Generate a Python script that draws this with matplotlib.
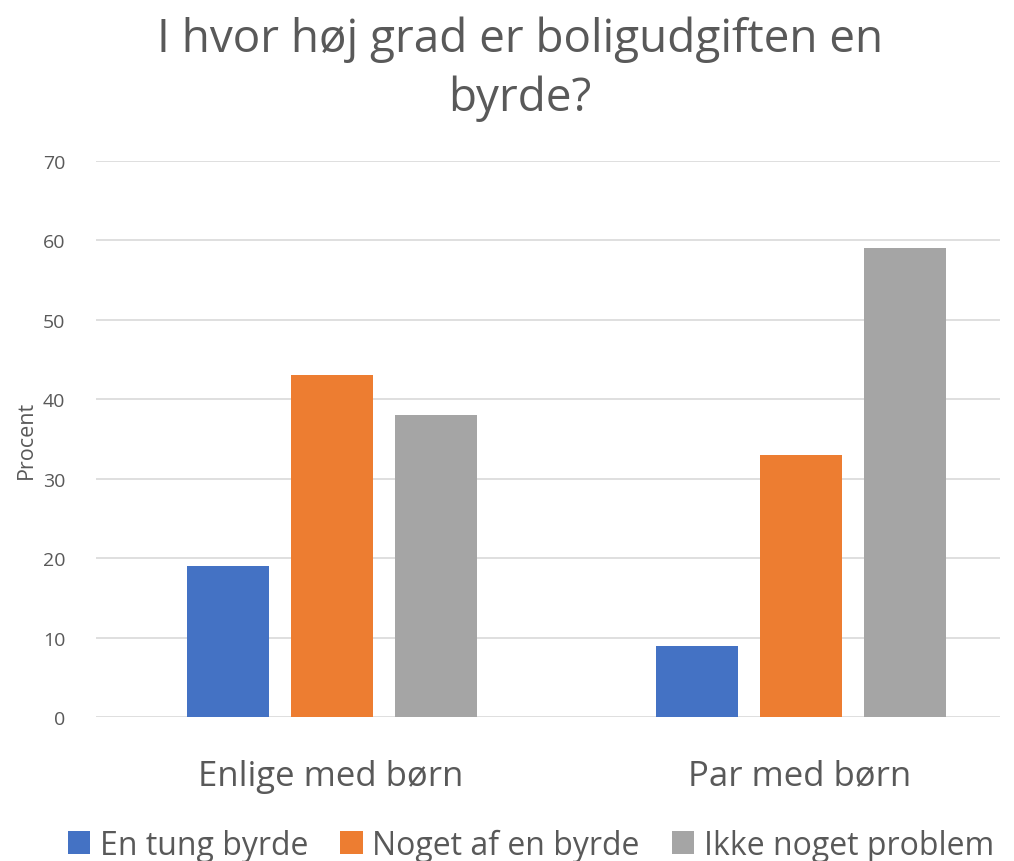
import matplotlib
matplotlib.use("Agg")
import matplotlib.pyplot as plt
import numpy as np

categories = ["Enlige med børn", "Par med børn"]
series_names = ["En tung byrde", "Noget af en byrde", "Ikke noget problem"]
values = {
    "En tung byrde": [19, 9],
    "Noget af en byrde": [43, 33],
    "Ikke noget problem": [38, 59],
}
colors = ["#4472C4", "#ED7D31", "#A5A5A5"]
yticks = [0, 10, 20, 30, 40, 50, 60, 70]

plt.rcParams['font.family'] = ['Open Sans', 'DejaVu Sans']
text_color = "#595959"

fig = plt.figure(figsize=(10.14, 8.62), dpi=100)
ax = fig.add_axes([96/1014, 1-718/862, (1000-96)/1014, (718-162)/862])

x = np.arange(len(categories))
width = 0.175
step = 0.222
for i, name in enumerate(series_names):
    ax.bar(x + (i-1)*step + 0.003, values[name], width, color=colors[i], label=name, zorder=3)

ax.set_ylim(0, 70)
ax.set_xlim(-0.5, 1.5 - 34/469)
ax.set_yticks(yticks)
ax.set_yticklabels([str(t) for t in yticks], fontsize=14, color=text_color)
ax.set_xticks(x)
ax.set_xticklabels(categories, fontsize=25, color=text_color)
ax.tick_params(axis='both', length=0)
ax.tick_params(axis='y', pad=22)
ax.tick_params(axis='x', pad=30)
ax.grid(axis='y', color='#D9D9D9', linewidth=1.2, zorder=0)
for s in ax.spines.values():
    s.set_visible(False)
ax.set_ylabel("Procent", fontsize=15.5, color=text_color)
ax.yaxis.set_label_coords((26-96)/904, 0.5)
ax.yaxis.label.set_verticalalignment('center')

fig.text(520/1014, 1-69/862, "I hvor høj grad er boligudgiften en\nbyrde?", ha='center', va='center',
         fontsize=33, color=text_color, linespacing=1.35)

leg = fig.legend(loc='center', bbox_to_anchor=(531/1014, 1-846/862), ncol=3, frameon=False,
                 fontsize=23, labelcolor=text_color, handlelength=0.7, handleheight=0.7,
                 handletextpad=0.3, columnspacing=1.0)

fig.savefig("out.png", dpi=100)
